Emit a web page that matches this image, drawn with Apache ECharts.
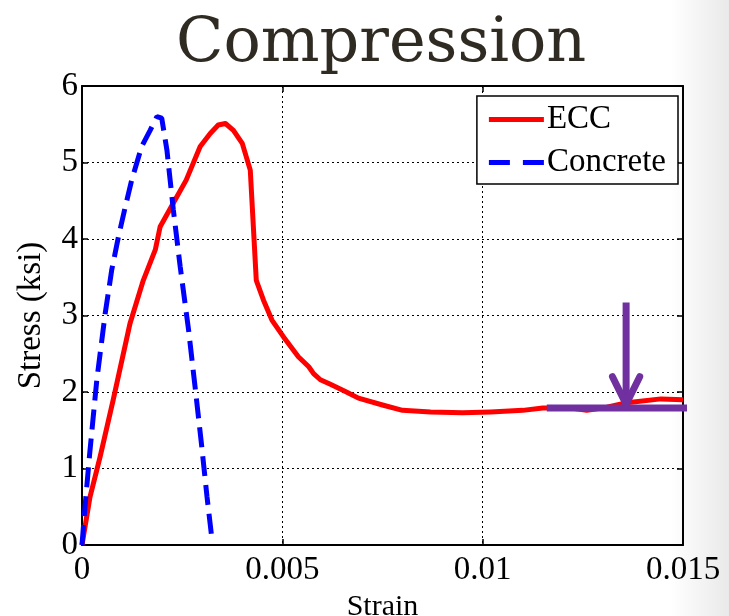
<!DOCTYPE html>
<html>
<head>
<meta charset="utf-8">
<script src="https://cdn.jsdelivr.net/npm/echarts@6/dist/echarts.min.js"></script>
<style>
    html, body { margin: 0; padding: 0; }
    body { background: linear-gradient(to right, #ffffff 0%, #ffffff 92%, #e9e9e9 100%); }
    #main { width: 729px; height: 616px; }
</style>
</head>
<body>
<div id="main"></div>
<script>
// ECC curve (strain, stress in ksi)
var eccStrain = [0, 0.0002, 0.00045, 0.00078, 0.0012, 0.00153, 0.00183, 0.00195, 0.00228, 0.0026,
    0.00295, 0.0032, 0.0034, 0.00358, 0.00378, 0.0040, 0.0042, 0.00435, 0.00453, 0.00474,
    0.00503, 0.0054, 0.00566, 0.00578, 0.00595, 0.0062, 0.0066, 0.0069, 0.0075, 0.0080,
    0.0087, 0.0095, 0.0102, 0.0110, 0.0115, 0.0122, 0.0126, 0.0131, 0.0136, 0.01445, 0.0150];
var eccStress = [0, 0.63, 1.15, 1.90, 2.90, 3.46, 3.86, 4.16, 4.47, 4.77,
    5.21, 5.38, 5.49, 5.51, 5.42, 5.25, 4.90, 3.46, 3.20, 2.94,
    2.72, 2.46, 2.33, 2.24, 2.16, 2.10, 2.00, 1.92, 1.83, 1.76,
    1.74, 1.73, 1.74, 1.76, 1.79, 1.79, 1.76, 1.80, 1.86, 1.91, 1.90];

// normal concrete
var concStrain = [0, 0.000075, 0.0002, 0.00037, 0.00058, 0.00074, 0.00091, 0.00108, 0.00124, 0.00149,
    0.0017, 0.00187, 0.00199, 0.00212, 0.00228, 0.00245, 0.00266, 0.00283, 0.00299, 0.00312, 0.00324];
var concStress = [0, 0.5, 1.24, 2.16, 3.03, 3.59, 4.03, 4.42, 4.77, 5.21,
    5.42, 5.60, 5.58, 5.16, 4.38, 3.64, 2.81, 2.03, 1.28, 0.63, 0.09];

// purple annotation (plateau line + arrow)
var plateauStrain = [0.0116, 0.01559];
var plateauStress = [1.79, 1.79];
var shaftStrain = [0.01358, 0.01358];
var shaftStress = [3.17, 1.86];
var headStrain = [0.01324, 0.01358, 0.01392];
var headStress = [2.20, 1.84, 2.20];

var xTicks = [0, 0.005, 0.01, 0.015];

function pairs(xs, ys) {
    return xs.map(function (x, i) { return [x, ys[i]]; });
}

var myChart = echarts.init(document.getElementById('main'), null, { renderer: 'canvas' });

var serif = 'Liberation Serif';
var gridLine = { show: true, lineStyle: { color: '#000', width: 1, type: [2, 3] } };
var frame = { show: true, onZero: false, lineStyle: { color: '#000', width: 2 } };
var ticks = { show: true, inside: true, length: 6, lineStyle: { color: '#000', width: 1.5 } };

var option = {
    title: {
        text: 'Compression',
        left: 171,
        top: 9,
        textStyle: { fontFamily: 'DejaVu Serif', fontSize: 62, fontWeight: 'normal', color: '#2f2b22' }
    },
    grid: { left: 82, right: 46, top: 86, bottom: 71, outerBoundsMode: 'none', containLabel: false },
    legend: {
        data: [
            { name: 'ECC', icon: 'path://M0,0H55V5H0Z' },
            { name: 'Concrete', icon: 'path://M0,0H21V5H0Z M34,0H55V5H34Z' }
        ],
        orient: 'vertical',
        right: 51,
        top: 96,
        padding: [7, 12, 5, 12],
        itemGap: 10,
        itemWidth: 55,
        itemHeight: 5,
        backgroundColor: '#fff',
        borderColor: '#000',
        borderWidth: 1.5,
        borderRadius: 0,
        textStyle: { fontFamily: serif, fontSize: 33, color: '#000', padding: [0, 0, 0, -2] }
    },
    xAxis: [{
        type: 'value',
        min: 0, max: 0.015, interval: 0.005,
        name: 'Strain',
        nameLocation: 'middle',
        nameGap: 37,
        nameTextStyle: { fontFamily: serif, fontSize: 30, color: '#000', verticalAlign: 'top' },
        axisLine: frame, axisTick: ticks, splitLine: gridLine,
        axisLabel: {
            fontFamily: serif, fontSize: 33, color: '#000', margin: 9,
            formatter: function (v) { return xTicks.indexOf(v) >= 0 ? String(v) : ''; }
        }
    }, {
        type: 'value', position: 'top',
        min: 0, max: 0.015, interval: 0.005,
        axisLine: frame, axisTick: ticks, splitLine: { show: false }, axisLabel: { show: false }
    }],
    yAxis: [{
        type: 'value',
        min: 0, max: 6, interval: 1,
        name: 'Stress (ksi)',
        nameLocation: 'middle',
        nameGap: 34,
        nameTextStyle: { fontFamily: serif, fontSize: 33, color: '#000' },
        axisLine: frame, axisTick: ticks, splitLine: gridLine,
        axisLabel: { fontFamily: serif, fontSize: 33, color: '#000', margin: 4 }
    }, {
        type: 'value', position: 'right',
        min: 0, max: 6, interval: 1,
        axisLine: frame, axisTick: ticks, splitLine: { show: false }, axisLabel: { show: false }
    }],
    series: [{
        name: 'ECC',
        type: 'line',
        symbol: 'none',
        data: pairs(eccStrain, eccStress),
        itemStyle: { color: '#ff0000' },
        lineStyle: { color: '#ff0000', width: 5, join: 'round' }
    }, {
        name: 'Concrete',
        type: 'line',
        symbol: 'none',
        data: pairs(concStrain, concStress),
        itemStyle: { color: '#0000ff' },
        lineStyle: { color: '#0000ff', width: 5, type: [20, 9] }
    }, {
        name: 'plateau',
        type: 'line',
        symbol: 'none',
        clip: false,
        z: 5,
        data: pairs(plateauStrain, plateauStress),
        lineStyle: { color: '#7030a0', width: 7 }
    }, {
        name: 'arrow',
        type: 'line',
        symbol: 'none',
        clip: false,
        z: 5,
        data: pairs(shaftStrain, shaftStress),
        lineStyle: { color: '#7030a0', width: 7 }
    }, {
        name: 'arrowhead',
        type: 'line',
        symbol: 'none',
        clip: false,
        z: 5,
        data: pairs(headStrain, headStress),
        lineStyle: { color: '#7030a0', width: 7, cap: 'round', join: 'round' }
    }]
};

myChart.setOption(option);
</script>
</body>
</html>
